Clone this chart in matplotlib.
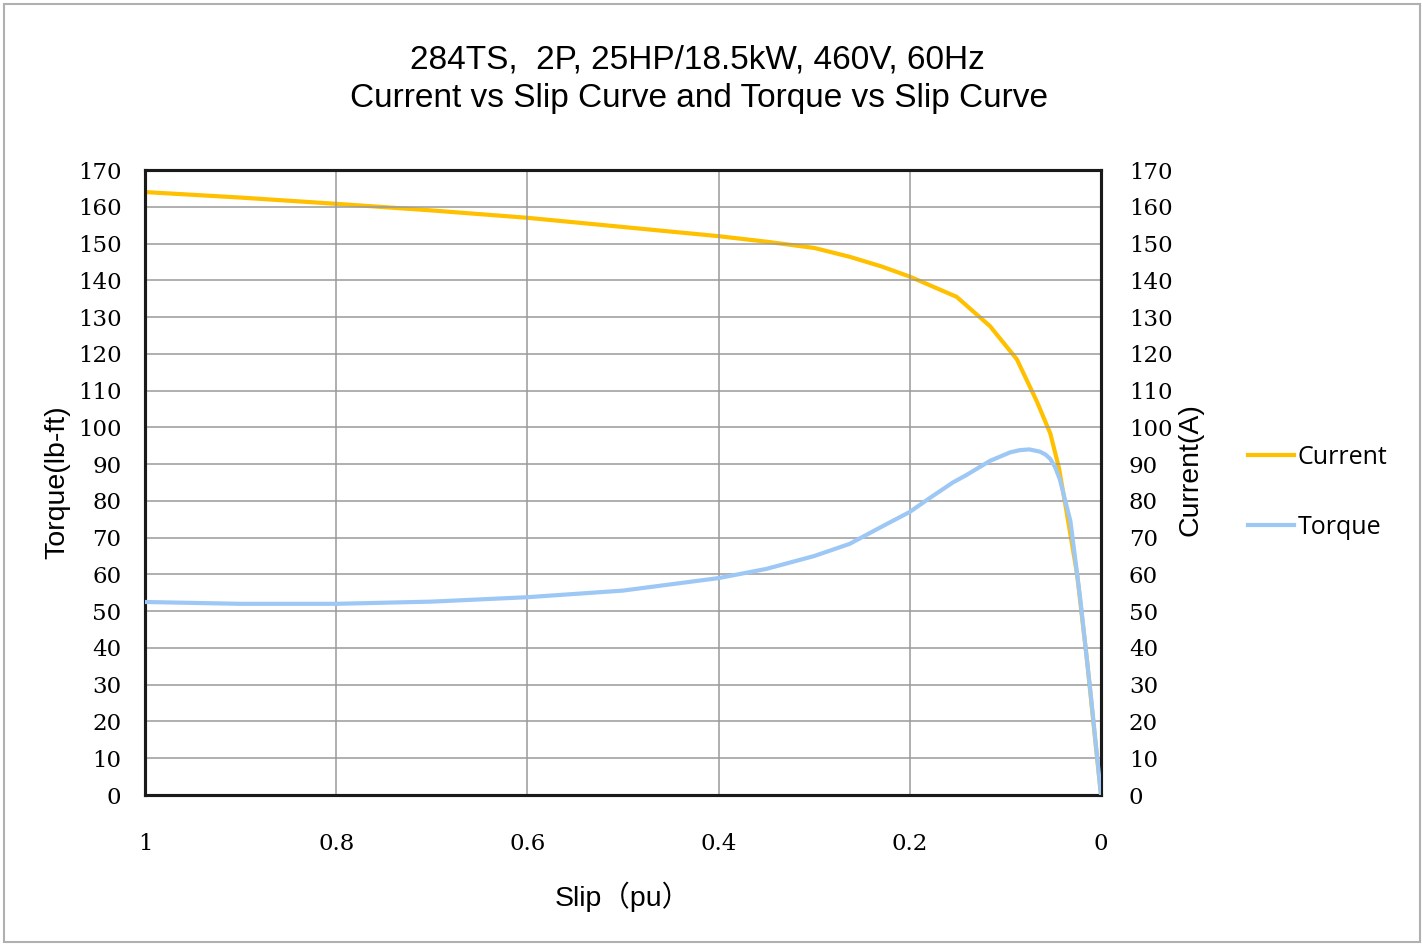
import matplotlib as mpl
import matplotlib.pyplot as plt
from matplotlib.patches import Rectangle

mpl.rcParams['font.family'] = ['Liberation Sans', 'DejaVu Sans']

# data
slip_current = [1.0, 0.9, 0.8, 0.7, 0.6, 0.5, 0.4, 0.35, 0.3, 0.263, 0.23, 0.2,
                0.151, 0.116, 0.088, 0.067, 0.053, 0.044, 0.036, 0.025, 0.015, 0.006, 0.0]
current = [164, 162.5, 160.8, 159, 157, 154.5, 152, 150.5, 148.8, 146.4, 143.8, 141,
           135.5, 127.5, 118.5, 107, 98.3, 89, 77, 60, 37.5, 14.8, 0]

slip_torque = [1.0, 0.9, 0.8, 0.7, 0.6, 0.5, 0.4, 0.35, 0.3, 0.263, 0.23, 0.2, 0.179,
               0.155, 0.141, 0.116, 0.095, 0.085, 0.075, 0.064, 0.058, 0.053, 0.048,
               0.043, 0.032, 0.022, 0.011, 0.0]
torque = [52.5, 52, 52, 52.6, 53.8, 55.6, 59, 61.5, 65, 68.3, 72.9, 77, 80.8,
          85, 87, 90.9, 93.2, 93.8, 94, 93.4, 92.6, 91.4, 89.2,
          85.8, 74.5, 54, 28, 0]

x_ticks = [1, 0.8, 0.6, 0.4, 0.2, 0]
x_ticklabels = ['1', '0.8', '0.6', '0.4', '0.2', '0']
y_ticks = list(range(0, 180, 10))

color_current = '#FFC000'
color_torque = '#9DC8F5'

fig = plt.figure(figsize=(14.22, 9.46), dpi=100)
ax = fig.add_axes([145/1422, 1-795/946, (1101-145)/1422, (795-170)/946])
ax2 = ax.twinx()

#plot lines
p1, = ax.plot(slip_torque, torque, color=color_torque, linewidth=3, zorder=3)
p0, = ax2.plot(slip_current, current, color=color_current, linewidth=3, zorder=2)
ax.set_zorder(2)
ax.patch.set_visible(False)

for a in (ax, ax2):
    a.set_xlim(1, 0)
    a.set_ylim(0, 170)
    a.set_yticks(y_ticks)
    a.tick_params(length=0)
    for sp in a.spines.values():
        sp.set_linewidth(2.2)
        sp.set_color('#1a1a1a')

ax.set_xticks(x_ticks)
ax.set_xticklabels(x_ticklabels)
ax.tick_params(axis='x', pad=27)
ax.tick_params(axis='y', pad=17)
ax2.tick_params(axis='y', pad=20)
for lab in ax.get_xticklabels() + ax.get_yticklabels() + ax2.get_yticklabels():
    lab.set_family('DejaVu Serif')
    lab.set_fontsize(16.5)
ax.grid(True, color='#9a9a9a', linewidth=1.1)
ax.set_axisbelow(True)

ax.set_ylabel('Torque(lb-ft)', fontsize=20.5, va='center')
ax.yaxis.set_label_coords(-0.092, 0.5)
ax2.set_ylabel('Current(A)', fontsize=20.5, va='center')
ax2.yaxis.set_label_coords(1.094, 0.52)
ax.set_xlabel('Slip（pu）', fontsize=20.5, va='center',
              family=['Liberation Sans', 'Noto Sans CJK SC'])
ax.xaxis.set_label_coords(0.5, -0.163)

fig.text(697/1422, 1-60/946, '284TS,  2P, 25HP/18.5kW, 460V, 60Hz',
         ha='center', va='center', fontsize=24)
fig.text(699/1422, 1-99/946, 'Current vs Slip Curve and Torque vs Slip Curve',
         ha='center', va='center', fontsize=24)

fig.legend((p0, p1), ('Current', 'Torque'), loc='center left',
           bbox_to_anchor=(1225/1422, 1-492/946), frameon=False,
           prop={'family': 'Open Sans', 'size': 18},
           handlelength=1.85, handletextpad=0.15, labelspacing=1.8)

fig.patches.append(Rectangle((4/1422, 4/946), 1416/1422, 938/946,
                             transform=fig.transFigure, fill=False,
                             edgecolor='#b0b0b0', linewidth=1.5))

fig.savefig('out.png', dpi=100)
